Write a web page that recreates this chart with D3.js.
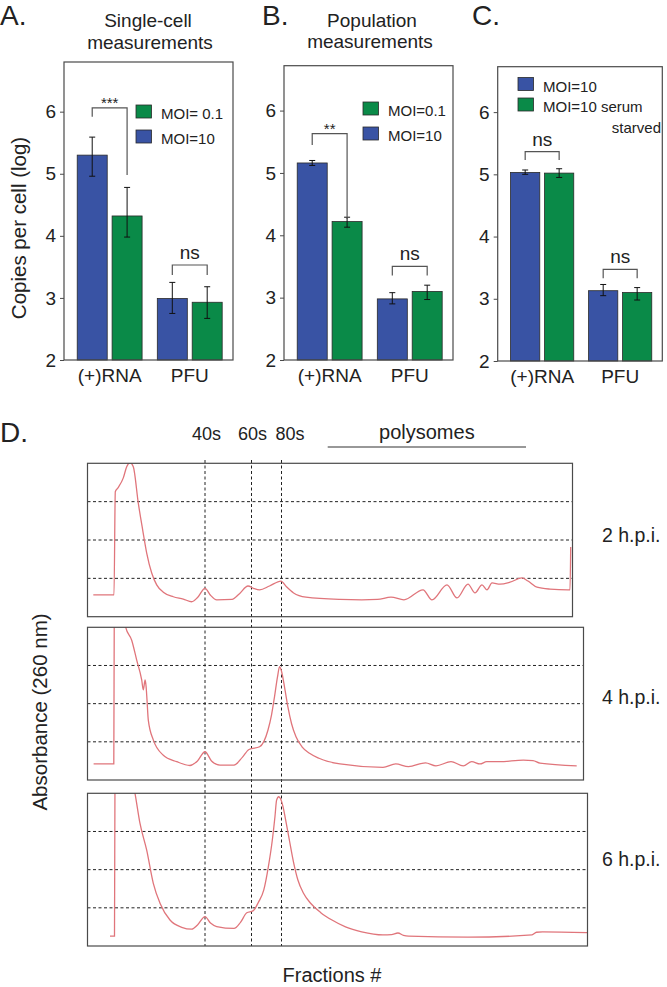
<!DOCTYPE html>
<html><head><meta charset="utf-8">
<script src="https://cdn.jsdelivr.net/npm/d3@7"></script>
<style>
body{margin:0;background:#fff;}
svg{display:block;font-family:"Liberation Sans",Arial,Helvetica,sans-serif;}
</style></head><body>
<svg id="chart" width="667" height="987"></svg>
<script>
// ---------- DATA ----------
const groups = ["(+)RNA", "PFU"];
const yTicks = [2, 3, 4, 5, 6];
const yMax = [6.8, 6.72, 6.73];

// A. Single-cell measurements
const singleMoi10 = [5.30, 2.99];
const singleMoi10Lo = [4.96, 2.75];
const singleMoi10Hi = [5.59, 3.25];
const singleMoi01 = [4.32, 2.93];
const singleMoi01Lo = [3.98, 2.67];
const singleMoi01Hi = [4.78, 3.18];
const singleBrackets = [
  {group: 0, top: 6.06, left: 5.92, right: 4.98, label: "***"},
  {group: 1, top: 3.53, left: 3.37, right: 3.37, label: "ns"}
];

// B. Population measurements
const popMoi10 = [5.16, 2.98];
const popMoi10Lo = [5.12, 2.90];
const popMoi10Hi = [5.20, 3.08];
const popMoi01 = [4.22, 3.10];
const popMoi01Lo = [4.13, 2.97];
const popMoi01Hi = [4.29, 3.20];
const popBrackets = [
  {group: 0, top: 5.63, left: 5.45, right: 4.26, label: "**"},
  {group: 1, top: 3.50, left: 3.355, right: 3.355, label: "ns"}
];

// C. Serum starvation
const starvMoi10 = [5.03, 3.13];
const starvMoi10Lo = [5.00, 3.05];
const starvMoi10Hi = [5.07, 3.23];
const starvSerum = [5.02, 3.10];
const starvSerumLo = [4.95, 2.98];
const starvSerumHi = [5.09, 3.18];
const starvBrackets = [
  {group: 0, top: 5.365, left: 5.23, right: 5.23, label: "ns"},
  {group: 1, top: 3.474, left: 3.33, right: 3.33, label: "ns"}
];

// D. Polysome profiles  [fraction position, absorbance]
const fractionMarks = [117.5, 164, 194];
const fractionLabels = ["40s", "60s", "80s"];
const fractionLabelPos = [119, 165, 202.5];
const polysomeRange = [240.2, 438.5];
const gridLevels = [1, 2, 3];
const hpiLabels = ["2 h.p.i.", "4 h.p.i.", "6 h.p.i."];
const profileEnds = [485, 496, 500];

const profile2h = [[5.8,0.57],[26.5,0.57],[27.8,3.26],[30.5,3.36],[35.8,3.62],[39.2,3.91],[42.5,4.02],[45.8,3.91],[50.8,2.96],[55.2,2.26],[59.2,1.66],[64.2,1.14],[69.2,0.83],[75.8,0.64],[85.8,0.52],[95.8,0.46],[104.2,0.39],[110,0.5],[117.5,0.74],[123,0.56],[129.2,0.44],[144.5,0.45],[152,0.6],[160.5,0.80],[166,0.74],[172.1,0.70],[182,0.8],[193.5,0.93],[199,0.78],[206.1,0.62],[218.5,0.51],[252.5,0.45],[274.2,0.44],[290,0.45],[303.5,0.51],[316.5,0.44],[335.5,0.70],[344.5,0.44],[359.5,0.83],[369.5,0.49],[380.5,0.85],[387.5,0.62],[394.5,0.83],[399.5,0.70],[404.5,0.88],[412.5,0.85],[422.5,0.90],[434.5,1.01],[440.5,0.93],[449.5,0.77],[462.5,0.72],[480.5,0.70],[482.5,0.70],[483.2,1.82]];

const profile4h = [[6.1,0.42],[26.3,0.42],[26.8,4.6],[30,5.5],[38,4.02],[44.2,3.66],[49.2,3.14],[54.2,2.62],[55.8,2.36],[57.6,2.62],[58.6,2.45],[59.5,2.1],[60.8,1.57],[65.8,1.05],[75.8,0.65],[89.2,0.48],[102.5,0.38],[110,0.5],[117.5,0.74],[124,0.5],[132.5,0.39],[146.5,0.39],[155,0.6],[161.5,0.80],[172.1,0.87],[180.5,1.31],[184,1.7],[187,2.18],[190,2.7],[192.1,2.97],[194,2.85],[197.5,2.36],[200.5,1.9],[204,1.48],[208.5,1.13],[214.5,0.87],[222,0.7],[231.5,0.57],[252.5,0.42],[295.5,0.33],[308.2,0.42],[321,0.35],[338,0.45],[348.5,0.37],[363.5,0.48],[375.8,0.37],[384.2,0.48],[392.5,0.42],[399.2,0.48],[412,0.48],[435.8,0.52],[445.5,0.51],[452.5,0.44],[489.2,0.37]];

const profile6h = [[22.5,0.26],[27,0.26],[27.5,4.5],[33,5.5],[47.5,4.0],[52.5,3.21],[59.2,2.51],[65.8,1.64],[72.5,1.12],[82.5,0.68],[94.2,0.49],[104.2,0.44],[110,0.55],[117.5,0.77],[123,0.6],[129.2,0.51],[146.5,0.46],[153,0.62],[159.3,0.87],[165.5,0.92],[171,1.15],[176.3,1.47],[181,2.1],[184.8,2.77],[187.5,3.4],[189.1,3.82],[191.2,3.91],[193.2,3.85],[195.5,3.65],[198.5,3.25],[201.9,2.77],[206,2.2],[210.4,1.73],[216,1.38],[223.1,1.12],[233,0.88],[244.5,0.68],[258,0.5],[274.2,0.37],[295.5,0.29],[304,0.3],[310.4,0.34],[316,0.28],[321,0.26],[380.5,0.23],[444.5,0.29],[449,0.36],[455.1,0.37],[499.5,0.35]];

// ---------- STYLE / LAYOUT ----------
const BLUE = "#3953a4", GREEN = "#0a8a48", INK = "#222", FRAME = "#4a4a4a", TRACE = "#e0757b";
const FONT = '"Liberation Sans",Arial,Helvetica,sans-serif';
const svg = d3.select("#chart");

function txt(x, y, s, size, anchor, extra) {
  const t = svg.append("text").attr("x", x).attr("y", y).text(s)
    .attr("font-size", size).attr("fill", INK).attr("text-anchor", anchor || "start");
  if (extra) extra(t);
  return t;
}

function barPanel(p) {
  const g = svg.append("g");
  const y = d3.scaleLinear().domain([2, p.yMax]).range([p.bottom, p.top]);
  const x0 = d3.scaleBand().domain(groups).range([p.left, p.right])
    .paddingInner(0.19).paddingOuter(0.15).align(0.55);
  const x1 = d3.scaleBand().domain([0, 1]).range([0, x0.bandwidth()]).paddingInner(0.14);

  p.series.forEach((s, si) => {
    const cx = i => x0(groups[i]) + x1(si) + x1.bandwidth() / 2;
    g.selectAll(null).data(s.values).join("rect")
      .attr("x", (d, i) => x0(groups[i]) + x1(si))
      .attr("y", d => y(d))
      .attr("width", x1.bandwidth())
      .attr("height", d => y(2) - y(d))
      .attr("fill", s.color).attr("stroke", "#2a2a2a").attr("stroke-width", 0.8);
    const eb = g.selectAll(null).data(s.values).join("g");
    eb.append("line").attr("x1", (d, i) => cx(i)).attr("x2", (d, i) => cx(i))
      .attr("y1", (d, i) => y(s.lo[i])).attr("y2", (d, i) => y(s.hi[i]));
    eb.append("line").attr("x1", (d, i) => cx(i) - 3).attr("x2", (d, i) => cx(i) + 3)
      .attr("y1", (d, i) => y(s.lo[i])).attr("y2", (d, i) => y(s.lo[i]));
    eb.append("line").attr("x1", (d, i) => cx(i) - 3).attr("x2", (d, i) => cx(i) + 3)
      .attr("y1", (d, i) => y(s.hi[i])).attr("y2", (d, i) => y(s.hi[i]));
    eb.selectAll("line").attr("stroke", "#111").attr("stroke-width", 1);
  });

  // brackets
  const legX = (gi, si) => x0(groups[gi]) + x1(si) + x1.bandwidth() / 2;
  p.brackets.forEach(b => {
    const xl = legX(b.group, 0), xr = legX(b.group, 1);
    g.append("path")
      .attr("d", `M${xl},${y(b.left)}V${y(b.top)}H${xr}V${y(b.right)}`)
      .attr("fill", "none").attr("stroke", "#555").attr("stroke-width", 1.2);
    const star = b.label.startsWith("*");
    g.append("text").attr("x", (xl + xr) / 2).attr("y", y(b.top) - (star ? 0 : 6))
      .attr("text-anchor", "middle").attr("font-size", star ? 15 : 19).attr("fill", INK)
      .text(b.label);
  });

  // frame
  g.append("rect").attr("x", p.left).attr("y", p.top)
    .attr("width", p.right - p.left).attr("height", p.bottom - p.top)
    .attr("fill", "none").attr("stroke", FRAME).attr("stroke-width", 1.2);

  // y axis
  const ax = g.append("g").attr("transform", `translate(${p.left},0)`)
    .call(d3.axisLeft(y).tickValues(yTicks).tickSize(4).tickPadding(4).tickFormat(d3.format("d")));
  ax.select(".domain").remove();
  ax.attr("font-family", FONT).attr("font-size", 19);
  ax.selectAll("text").attr("fill", INK);
  ax.selectAll("line").attr("stroke", FRAME);

  // x labels
  const bx = g.append("g").attr("transform", `translate(0,${p.bottom})`)
    .call(d3.axisBottom(x0).tickSize(0).tickPadding(8.5));
  bx.select(".domain").remove();
  bx.attr("font-family", FONT).attr("font-size", 19);
  bx.selectAll("text").attr("fill", INK);

  // legend
  p.legend.forEach((l, i) => {
    const ly = p.legY + i * p.legStep;
    g.append("rect").attr("x", p.legX).attr("y", ly).attr("width", 15.5).attr("height", 13)
      .attr("fill", l.color).attr("stroke", "#2a2a2a").attr("stroke-width", 0.8);
    g.append("text").attr("x", p.legX + 25).attr("y", ly + 14).attr("font-size", 15)
      .attr("fill", INK).text(l.name);
  });
}

// Panel letters & titles
txt(0, 25, "A.", 28);
txt(262, 25, "B.", 28);
txt(472, 25, "C.", 28);
txt(0, 442, "D.", 28);
txt(148, 27, "Single-cell", 19, "middle");
txt(150, 49, "measurements", 19, "middle");
txt(372, 27, "Population", 19, "middle");
txt(370, 48, "measurements", 19, "middle");

barPanel({
  left: 64, right: 233, top: 62, bottom: 360, yMax: yMax[0],
  series: [
    {color: BLUE, values: singleMoi10, lo: singleMoi10Lo, hi: singleMoi10Hi},
    {color: GREEN, values: singleMoi01, lo: singleMoi01Lo, hi: singleMoi01Hi}
  ],
  brackets: singleBrackets,
  legX: 136, legY: 105, legStep: 25,
  legend: [{name: "MOI= 0.1", color: GREEN}, {name: "MOI=10", color: BLUE}]
});
barPanel({
  left: 284, right: 453, top: 65.7, bottom: 360, yMax: yMax[1],
  series: [
    {color: BLUE, values: popMoi10, lo: popMoi10Lo, hi: popMoi10Hi},
    {color: GREEN, values: popMoi01, lo: popMoi01Lo, hi: popMoi01Hi}
  ],
  brackets: popBrackets,
  legX: 363, legY: 102, legStep: 25,
  legend: [{name: "MOI=0.1", color: GREEN}, {name: "MOI=10", color: BLUE}]
});
barPanel({
  left: 497.7, right: 662.3, top: 66.7, bottom: 361, yMax: yMax[2],
  series: [
    {color: BLUE, values: starvMoi10, lo: starvMoi10Lo, hi: starvMoi10Hi},
    {color: GREEN, values: starvSerum, lo: starvSerumLo, hi: starvSerumHi}
  ],
  brackets: starvBrackets,
  legX: 518, legY: 77.5, legStep: 20.5,
  legend: [{name: "MOI=10", color: BLUE}, {name: "MOI=10 serum", color: GREEN}]
});
txt(661, 133, "starved", 15, "end");

// y label for bars
svg.append("text").attr("transform", "translate(26,228) rotate(-90)")
  .attr("text-anchor", "middle").attr("font-size", 20.5).attr("fill", INK)
  .text("Copies per cell (log)");

// ---------- D. Polysome profiles ----------
const xF = d3.scaleLinear().domain([0, 500]).range([87.5, 587.5]);
const boxes = [
  {top: 463.3, bottom: 616.7, data: profile2h, end: profileEnds[0], lab: 542},
  {top: 627.3, bottom: 780, data: profile4h, end: profileEnds[1], lab: 704},
  {top: 793.3, bottom: 946, data: profile6h, end: profileEnds[2], lab: 866}
];
const defs = svg.append("defs");
const dash = "3,2.5";

// vertical fraction markers (behind)
svg.append("g").selectAll("line").data(fractionMarks).join("line")
  .attr("x1", d => xF(d)).attr("x2", d => xF(d))
  .attr("y1", 460).attr("y2", 946)
  .attr("stroke", "#222").attr("stroke-width", 1).attr("stroke-dasharray", dash);

boxes.forEach((b, i) => {
  const y = d3.scaleLinear().domain([0, 4]).range([b.bottom, b.top]);
  const g = svg.append("g");
  const w = xF(b.end) - xF(0);
  defs.append("clipPath").attr("id", "clip" + i).append("rect")
    .attr("x", xF(0)).attr("y", b.top).attr("width", w).attr("height", b.bottom - b.top);
  g.selectAll(null).data(gridLevels).join("line")
    .attr("x1", xF(0)).attr("x2", xF(b.end))
    .attr("y1", d => y(d)).attr("y2", d => y(d))
    .attr("stroke", "#222").attr("stroke-width", 1).attr("stroke-dasharray", dash);
  g.append("path").datum(b.data)
    .attr("clip-path", `url(#clip${i})`)
    .attr("d", d3.line().x(d => xF(d[0])).y(d => y(d[1])).curve(d3.curveMonotoneX))
    .attr("fill", "none").attr("stroke", TRACE).attr("stroke-width", 1.3);
  g.append("rect").attr("x", xF(0)).attr("y", b.top).attr("width", w).attr("height", b.bottom - b.top)
    .attr("fill", "none").attr("stroke", FRAME).attr("stroke-width", 1.2);
  txt(602, b.lab, hpiLabels[i], 19.5);
});

// fraction labels
fractionLabels.forEach((l, i) => txt(xF(fractionLabelPos[i]), 440, l, 18, "middle"));
txt((xF(polysomeRange[0]) + xF(polysomeRange[1])) / 2, 439, "polysomes", 20, "middle");
svg.append("line").attr("x1", xF(polysomeRange[0])).attr("x2", xF(polysomeRange[1]))
  .attr("y1", 447).attr("y2", 447).attr("stroke", "#333").attr("stroke-width", 1.2);

svg.append("text").attr("transform", "translate(46.5,712) rotate(-90)")
  .attr("text-anchor", "middle").attr("font-size", 20.5).attr("fill", INK)
  .text("Absorbance (260 nm)");
txt(332, 982, "Fractions #", 20, "middle");
</script>
</body></html>
